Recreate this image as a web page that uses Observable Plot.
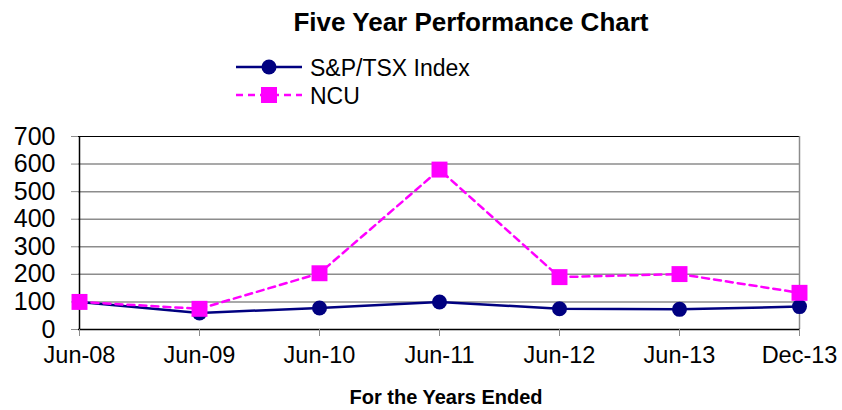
<!DOCTYPE html>
<html>
<head>
<meta charset="utf-8">
<script src="https://cdn.jsdelivr.net/npm/d3@7"></script>
<script src="https://cdn.jsdelivr.net/npm/@observablehq/plot@0.6"></script>
<style>
  html, body { margin: 0; padding: 0; background: #fff; }
  #root { position: relative; width: 842px; height: 410px; font-family: "Liberation Sans", Arial, sans-serif; overflow: hidden; }
  #title { position: absolute; top: 9px; left: 471px; transform: translateX(-50%); font-size: 26px; font-weight: bold; white-space: nowrap; line-height: 26px; }
  #legend { position: absolute; left: 0; top: 0; }
  #chart { position: absolute; left: 0; top: 120px; }
  #xlabel { position: absolute; left: 446px; top: 387px; transform: translateX(-50%); font-size: 20px; font-weight: bold; white-space: nowrap; line-height: 21px; }
</style>
</head>
<body>
<div id="root">
  <div id="title">Five Year Performance Chart</div>
  <div id="legend"></div>
  <div id="chart"></div>
  <div id="xlabel">For the Years Ended</div>
</div>
<script>
const categories = ["Jun-08", "Jun-09", "Jun-10", "Jun-11", "Jun-12", "Jun-13", "Dec-13"];
const spTsxIndex = [100, 60, 78, 100, 75, 73, 83];
const ncu = [100, 75, 204, 580, 190, 201, 133];
const yTicks = [0, 100, 200, 300, 400, 500, 600, 700];
const seriesNames = ["S&P/TSX Index", "NCU"];

const navy = "#000080";
const magenta = "#FF00FF";

const spRows = categories.map((c, i) => ({ date: c, value: spTsxIndex[i] }));
const ncuRows = categories.map((c, i) => ({ date: c, value: ncu[i] }));

const chart = Plot.plot({
  width: 842,
  height: 290,
  marginTop: 16,
  marginBottom: 81,
  marginLeft: 78,
  marginRight: 42,
  style: { fontFamily: "'Liberation Sans', Arial, sans-serif", fontSize: "24px", color: "#000", background: "#fff" },
  x: { type: "point", domain: categories, padding: 0 },
  y: { domain: [0, 700] },
  marks: [
    Plot.ruleY(yTicks.filter(d => d > 0 && d < 700), { stroke: "#8c8c8c", strokeWidth: 1.5, strokeOpacity: 1 }),
    Plot.ruleY([700], { stroke: "#000", strokeWidth: 1.2 }),
    Plot.ruleX([categories[categories.length - 1]], { stroke: "#8c8c8c", strokeWidth: 1.5, y1: 0, y2: 700 }),
    Plot.ruleY([0], { stroke: "#000", strokeWidth: 1.5 }),
    Plot.ruleX([categories[0]], { stroke: "#000", strokeWidth: 1.5, y1: 0, y2: 700 }),
    Plot.axisY({ ticks: yTicks, tickSize: 7, tickPadding: 16, tickFormat: d => String(d), label: null, stroke: "#8c8c8c", fill: "#000", fontSize: 25 }),
    Plot.axisX({ tickSize: 7, tickPadding: 10, label: null, stroke: "#8c8c8c", fill: "#000", fontSize: 23.5 }),
    Plot.line(spRows, { x: "date", y: "value", stroke: navy, strokeWidth: 2.5 }),
    Plot.dot(spRows, { x: "date", y: "value", symbol: "circle", r: 7.5, fill: navy, stroke: "none" }),
    Plot.line(ncuRows, { x: "date", y: "value", stroke: magenta, strokeWidth: 2.5, strokeDasharray: "7,5" }),
    Plot.dot(ncuRows, { x: "date", y: "value", symbol: "square", r: 9, fill: magenta, stroke: "none" })
  ]
});
document.getElementById("chart").appendChild(chart);

// Legend
const legendSvg = d3.create("svg").attr("width", 842).attr("height", 115);
const legendItems = [
  { name: seriesNames[0], color: navy, dash: null, symbol: "circle", cy: 67 },
  { name: seriesNames[1], color: magenta, dash: "7,5", symbol: "square", cy: 95 }
];
legendItems.forEach(item => {
  const g = legendSvg.append("g");
  g.append("line").attr("x1", 236).attr("x2", 302).attr("y1", item.cy).attr("y2", item.cy)
    .attr("stroke", item.color).attr("stroke-width", 2.5)
    .attr("stroke-dasharray", item.dash);
  if (item.symbol === "circle") {
    g.append("circle").attr("cx", 269).attr("cy", item.cy).attr("r", 7.5).attr("fill", item.color);
  } else {
    g.append("rect").attr("x", 261).attr("y", item.cy - 8).attr("width", 16).attr("height", 16).attr("fill", item.color);
  }
  g.append("text").attr("x", 310).attr("y", item.cy + 8.5).attr("font-size", 23)
    .attr("font-family", "'Liberation Sans', Arial, sans-serif").attr("fill", "#000").text(item.name);
});
document.getElementById("legend").appendChild(legendSvg.node());
</script>
</body>
</html>
